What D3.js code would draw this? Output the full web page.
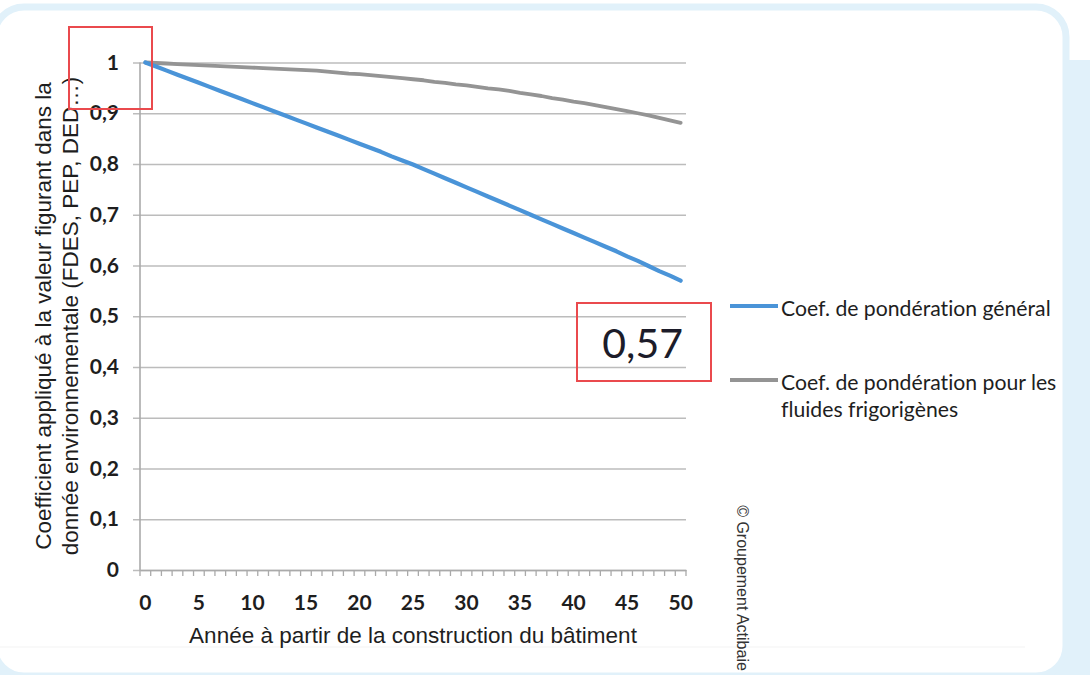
<!DOCTYPE html>
<html>
<head>
<meta charset="utf-8">
<script src="https://cdn.jsdelivr.net/npm/d3@7/dist/d3.min.js"></script>
<style>
  body { margin: 0; background: #fff; }
  svg { display: block; }
  text { font-variant-ligatures: none; font-feature-settings: "liga" 0, "clig" 0; }
</style>
</head>
<body>
<svg id="chart" width="1090" height="675"></svg>
<script>
// Years after construction (category axis)
const years = [0,1,2,3,4,5,6,7,8,9,10,11,12,13,14,15,16,17,18,19,20,
  21,22,23,24,25,26,27,28,29,30,31,32,33,34,35,36,37,38,39,40,
  41,42,43,44,45,46,47,48,49,50];

// General weighting coefficient
const coefGeneral = [1.000,0.992,0.984,0.976,0.968,0.960,0.952,0.944,0.936,0.928,0.920,
  0.912,0.904,0.896,0.888,0.880,0.872,0.864,0.856,0.848,0.840,
  0.832,0.824,0.815,0.807,0.799,0.790,0.781,0.772,0.763,0.754,
  0.745,0.736,0.727,0.718,0.709,0.700,0.691,0.682,0.673,0.664,
  0.655,0.646,0.637,0.628,0.618,0.609,0.599,0.589,0.580,0.570];

// Weighting coefficient for refrigerant fluids
const coefFluides = [1.000,0.999,0.998,0.997,0.996,0.995,0.994,0.993,0.992,0.991,0.990,
  0.989,0.988,0.987,0.986,0.985,0.984,0.982,0.980,0.978,0.977,
  0.975,0.973,0.971,0.969,0.967,0.965,0.962,0.960,0.957,0.955,
  0.952,0.949,0.947,0.944,0.940,0.937,0.934,0.930,0.927,0.923,
  0.920,0.916,0.912,0.908,0.904,0.900,0.896,0.891,0.886,0.881];

const xTickValues = [0,5,10,15,20,25,30,35,40,45,50];
const yTickValues = [0,0.1,0.2,0.3,0.4,0.5,0.6,0.7,0.8,0.9,1];
const yTickLabels = ["0","0,1","0,2","0,3","0,4","0,5","0,6","0,7","0,8","0,9","1"];

const seriesNames = ["Coef. de pondération général",
                     ["Coef. de pondération pour les", "fluides frigorigènes"]];
const seriesColors = ["#4a94d8", "#949494"];
const endLabel = "0,57";

const svg = d3.select("#chart");
const W = 1090, H = 675;
const pale = "#e1f1fa";

// ---- frame ----
svg.append("rect").attr("width", W).attr("height", H).attr("fill", "#fff");
svg.append("rect").attr("x", 1030).attr("y", 60).attr("width", 60).attr("height", H - 60).attr("fill", pale);
svg.append("rect").attr("x", 0).attr("y", 640).attr("width", 40).attr("height", 35).attr("fill", pale);
svg.append("rect")
  .attr("x", -6).attr("y", 7).attr("width", 1072).attr("height", 669)
  .attr("rx", 30).attr("ry", 30)
  .attr("fill", "#fff").attr("stroke", pale).attr("stroke-width", 7);
svg.append("line").attr("x1", 0).attr("x2", 1025).attr("y1", 647).attr("y2", 647)
  .attr("stroke", "#f3f3f3").attr("stroke-width", 1);

// ---- scales ----
const plotLeft = 140, plotRight = 686, plotTop = 62.5, plotBottom = 570;
const x = d3.scaleBand().domain(years).range([plotLeft, plotRight]).paddingInner(0).paddingOuter(0);
const xc = d => x(d) + x.bandwidth() / 2;
const y = d3.scaleLinear().domain([0, 1]).range([plotBottom, plotTop]);

const tickFont = "Lato, 'Open Sans', sans-serif";
const gridColor = "#bcbcbc";

// ---- y axis with gridlines ----
const yAxis = d3.axisLeft(y)
  .tickValues(yTickValues)
  .tickFormat((d, i) => yTickLabels[i])
  .tickSize(-(plotRight - 133))
  .tickPadding(14);
const gy = svg.append("g").attr("transform", "translate(133,0)").call(yAxis);
gy.select(".domain").remove();
gy.selectAll(".tick line").attr("stroke", gridColor).attr("stroke-width", 1.6);
gy.selectAll(".tick text")
  .attr("font-family", tickFont).attr("font-weight", 700).attr("font-size", 21)
  .attr("fill", "#1e1e1e");

svg.append("line")
  .attr("x1", plotLeft).attr("x2", plotLeft).attr("y1", plotTop).attr("y2", plotBottom)
  .attr("stroke", "#aaa").attr("stroke-width", 1.6);

// ---- x axis ----
const xAxis = d3.axisBottom(x)
  .tickValues(xTickValues)
  .tickSize(0).tickSizeOuter(0)
  .tickPadding(25);
const gx = svg.append("g").attr("transform", `translate(0,${plotBottom})`).call(xAxis);
gx.select(".domain").attr("stroke", "#aaa").attr("stroke-width", 1.6);
gx.selectAll(".tick text")
  .attr("font-family", tickFont).attr("font-weight", 700).attr("font-size", 21)
  .attr("fill", "#1e1e1e");

// minor ticks on category boundaries
const edges = years.map(d => x(d)).concat([x(years[years.length - 1]) + x.bandwidth()]);
svg.append("g").selectAll("line").data(edges).join("line")
  .attr("x1", d => d).attr("x2", d => d)
  .attr("y1", plotBottom).attr("y2", plotBottom + 6)
  .attr("stroke", "#aaa").attr("stroke-width", 1.3);

// ---- series (fluids drawn first so the general line sits on top) ----
const line = d3.line().x(d => xc(d.year)).y(d => y(d.v));
const series = [coefGeneral, coefFluides];
[1, 0].forEach(i => {
  const pts = years.map((yr, j) => ({ year: yr, v: series[i][j] }));
  svg.append("path").datum(pts)
    .attr("d", line)
    .attr("fill", "none")
    .attr("stroke", seriesColors[i])
    .attr("stroke-width", i === 0 ? 4.2 : 3.8)
    .attr("stroke-linecap", "round")
    .attr("stroke-linejoin", "round");
});

// ---- axis titles ----
const titleFont = "'Liberation Sans', Arial, sans-serif";
svg.append("text")
  .attr("x", 413).attr("y", 643)
  .attr("text-anchor", "middle")
  .attr("font-family", titleFont).attr("font-size", 22.5).attr("fill", "#1e1e1e")
  .text("Année à partir de la construction du bâtiment");

const yTitle = ["Coefficient appliqué à la valeur figurant dans la",
                "donnée environnementale (FDES, PEP, DED…)"];
yTitle.forEach((t, i) => {
  svg.append("text")
    .attr("transform", `translate(${43 + i * 27},316) rotate(-90)`)
    .attr("text-anchor", "middle").attr("dominant-baseline", "central")
    .attr("font-family", titleFont).attr("font-size", 22.5).attr("fill", "#1e1e1e")
    .text(t);
});

// ---- legend ----
const legendFont = "Lato, 'Open Sans', sans-serif";
const legendY = [306, 380];
seriesNames.forEach((name, i) => {
  svg.append("line")
    .attr("x1", 730).attr("x2", 778).attr("y1", legendY[i]).attr("y2", legendY[i])
    .attr("stroke", seriesColors[i]).attr("stroke-width", 4);
  const lines = Array.isArray(name) ? name : [name];
  lines.forEach((t, k) => {
    svg.append("text")
      .attr("x", 781).attr("y", legendY[i] + 2 + k * 27)
      .attr("dominant-baseline", "central")
      .attr("font-family", legendFont).attr("font-size", 21.2).attr("fill", "#1e1e1e")
      .text(t);
  });
});

// ---- end-value callout ----
svg.append("text")
  .attr("x", 683).attr("y", 358)
  .attr("text-anchor", "end")
  .attr("font-family", legendFont).attr("font-size", 41).attr("fill", "#1c1c2a")
  .text(endLabel);

const boxColor = "#ea4a4d";
svg.append("rect").attr("x", 69).attr("y", 27).attr("width", 83).attr("height", 82)
  .attr("fill", "none").attr("stroke", boxColor).attr("stroke-width", 2);
svg.append("rect").attr("x", 577).attr("y", 303).attr("width", 134).attr("height", 78)
  .attr("fill", "none").attr("stroke", boxColor).attr("stroke-width", 2);

// ---- credit ----
svg.append("text")
  .attr("transform", "translate(742,588) rotate(90)")
  .attr("text-anchor", "middle").attr("dominant-baseline", "central")
  .attr("font-family", titleFont).attr("font-size", 16).attr("fill", "#333")
  .text("© Groupement Actibaie");
</script>
</body>
</html>
